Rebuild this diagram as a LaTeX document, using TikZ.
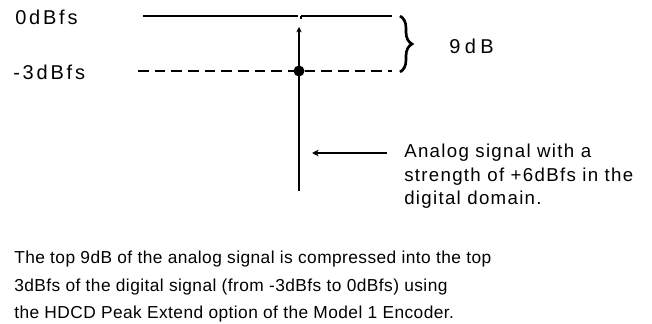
\documentclass[tikz,border=0pt]{standalone}
\usepackage{fontspec}
\setmainfont{Liberation Sans}
\newfontfamily\lblfont[LetterSpace=14]{Liberation Sans}
\newfontfamily\ninefont[LetterSpace=22]{Liberation Sans}
\newfontfamily\annfont[LetterSpace=7]{Liberation Sans}
\newfontfamily\capfont[LetterSpace=2.5]{Liberation Sans}
\usetikzlibrary{arrows.meta,decorations.pathreplacing}
\begin{document}
\begin{tikzpicture}[x=0.75pt,y=-0.75pt,
  lbl/.style={anchor=west,inner sep=0pt,font=\lblfont\fontsize{15}{18}\selectfont},
  ann/.style={anchor=north west,align=left,inner sep=0pt,font=\annfont\fontsize{14}{17.5}\selectfont},
  capt/.style={anchor=north west,align=left,inner sep=0pt,font=\capfont\fontsize{13}{20.5}\selectfont},
  ln/.style={line width=1.1pt}]
\useasboundingbox (0,0) rectangle (652,324);
\node[lbl] (zero) at (15,17) {0dBfs};
\node[lbl] (three) at (13,72) {-3dBfs};
\coordinate (tl) at (143,16);
\coordinate (tg1) at (297.5,16);
\coordinate (tg2) at (301,16);
\coordinate (tr) at (392,16);
\coordinate (dl) at (138,71);
\coordinate (dr) at (392,71);
\coordinate (vt) at (299,27);
\coordinate (vb) at (299,191);
\coordinate (dot) at (299,71);
\draw[ln] (tl) -- (tg1);
\draw[ln] (tg2) -- (tr);
\draw[ln] (tg2) -- ++(0,3);
\draw[ln,dash pattern=on 8pt off 4.5pt] (dl) -- (dr);
\draw[ln,-{Stealth[length=4pt,width=4pt]}] (vb) -- (vt);
\fill (dot) circle (5.5);
\draw[line width=2pt,decorate,decoration={brace,amplitude=9pt}] (400,16) -- (400,72);
\node[lbl,font=\ninefont\fontsize{15}{18}\selectfont] (nine) at (449,46) {9dB};
\node[ann] (ana) at (404,144) {Analog signal with a\\strength of +6dBfs in the\\digital domain.};
\coordinate (ae) at (387,153);
\draw[ln,-{Stealth[length=5pt,width=5pt]}] (ae) -- (312,153);
\node[capt] (cap) at (14,251) {The top 9dB of the analog signal is compressed into the top\\3dBfs of the digital signal (from -3dBfs to 0dBfs) using\\the HDCD Peak Extend option of the Model 1 Encoder.};
\end{tikzpicture}
\end{document}
